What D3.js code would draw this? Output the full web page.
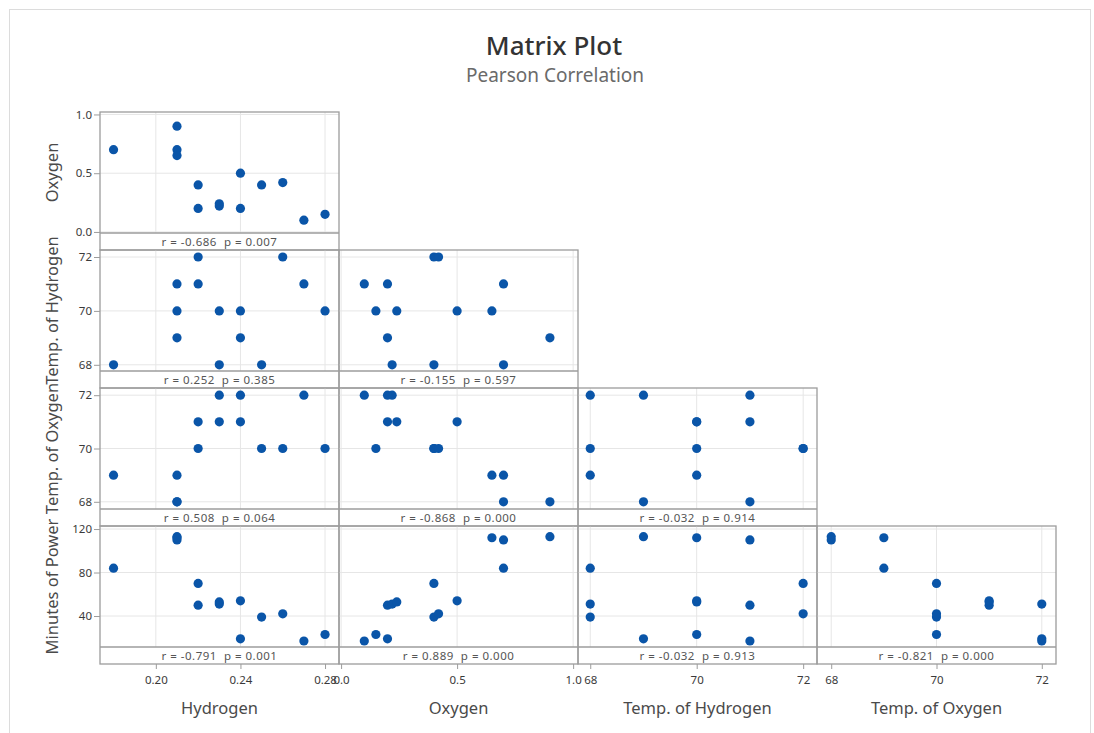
<!DOCTYPE html>
<html>
<head>
<meta charset="utf-8">
<script src="https://cdn.jsdelivr.net/npm/d3@7"></script>
<style>
  html, body { margin: 0; padding: 0; background: #ffffff; }
  svg { display: block; font-family: "Noto Sans", "Open Sans", sans-serif; }
</style>
</head>
<body>
<svg id="chart" width="1094" height="733"></svg>
<script>
// Variables of the matrix plot, in column/row order
const variableNames = ["Hydrogen", "Oxygen", "Temp. of Hydrogen", "Temp. of Oxygen", "Minutes of Power"];

// Observations (14 runs)
const hydrogen       = [0.18, 0.21, 0.21, 0.21, 0.22, 0.22, 0.23, 0.23, 0.24, 0.24, 0.25, 0.26, 0.27, 0.28];
const oxygen         = [0.70, 0.90, 0.70, 0.65, 0.40, 0.20, 0.22, 0.24, 0.50, 0.20, 0.40, 0.42, 0.10, 0.15];
const tempHydrogen   = [68, 69, 71, 70, 72, 71, 68, 70, 70, 69, 68, 72, 71, 70];
const tempOxygen     = [69, 68, 68, 69, 70, 71, 72, 71, 71, 72, 70, 70, 72, 70];
const minutesOfPower = [84, 113, 110, 112, 70, 50, 51, 53, 54, 19, 39, 42, 17, 23];

// Tick values and labels per variable
const tickValues = [
  [0.20, 0.24, 0.28],
  [0.0, 0.5, 1.0],
  [68, 70, 72],
  [68, 70, 72],
  [40, 80, 120]
];
const tickLabels = [
  ["0.20", "0.24", "0.28"],
  ["0.0", "0.5", "1.0"],
  ["68", "70", "72"],
  ["68", "70", "72"],
  ["40", "80", "120"]
];

// Pearson r and p for each lower-triangle panel (row = y variable, column = x variable)
const rValues = [
  ["-0.686"],
  ["0.252", "-0.155"],
  ["0.508", "-0.868", "-0.032"],
  ["-0.791", "0.889", "-0.032", "-0.821"]
];
const pValues = [
  ["0.007"],
  ["0.385", "0.597"],
  ["0.064", "0.000", "0.914"],
  ["0.001", "0.000", "0.913", "0.000"]
];

const series = [hydrogen, oxygen, tempHydrogen, tempOxygen, minutesOfPower];

// Scale domains (with the padding the panels show)
const domains = [
  [0.1736, 0.2866],
  [-0.009, 1.021],
  [67.77, 72.26],
  [67.73, 72.27],
  [11.5, 122.8]
];

// Panel geometry
const colEdges = [100, 339, 578, 817, 1056];
const rowTops = [112, 250, 388, 526];
const plotH = 121;
const stripH = 17;

const svg = d3.select("#chart");

// Outer frame
svg.append("rect")
  .attr("x", 9.5).attr("y", 9.5)
  .attr("width", 1081).attr("height", 740)
  .attr("fill", "none").attr("stroke", "#dcdcdc").attr("stroke-width", 1);

// Titles
svg.append("text")
  .attr("x", 554).attr("y", 55)
  .attr("text-anchor", "middle")
  .attr("font-size", 26).attr("font-weight", 500).attr("fill", "#333")
  .text("Matrix Plot");
svg.append("text")
  .attr("x", 555).attr("y", 82)
  .attr("text-anchor", "middle")
  .attr("font-size", 19).attr("fill", "#6a6a6a")
  .text("Pearson Correlation");

const xScales = d3.range(4).map(j =>
  d3.scaleLinear().domain(domains[j]).range([colEdges[j], colEdges[j + 1]]));
const yScales = d3.range(4).map(i =>
  d3.scaleLinear().domain(domains[i + 1]).range([rowTops[i] + plotH, rowTops[i]]));

const border = "#9c9c9c";
const grid = "#e6e6e6";

for (let i = 0; i < 4; i++) {
  const yVar = i + 1;
  const y = yScales[i];
  const top = rowTops[i];
  for (let j = 0; j <= i; j++) {
    const x = xScales[j];
    const left = colEdges[j], right = colEdges[j + 1];
    const g = svg.append("g");

    // grid lines
    g.selectAll(".vg").data(tickValues[j]).join("line")
      .attr("x1", d => x(d)).attr("x2", d => x(d))
      .attr("y1", top).attr("y2", top + plotH)
      .attr("stroke", grid).attr("stroke-width", 1);
    g.selectAll(".hg").data(tickValues[yVar]).join("line")
      .attr("x1", left).attr("x2", right)
      .attr("y1", d => y(d)).attr("y2", d => y(d))
      .attr("stroke", grid).attr("stroke-width", 1);

    // points
    const xs = series[j], ys = series[yVar];
    g.selectAll("circle").data(d3.range(xs.length)).join("circle")
      .attr("cx", k => x(xs[k]))
      .attr("cy", k => y(ys[k]))
      .attr("r", 4.6)
      .attr("fill", "#0a55a8");

    // panel box and statistics strip
    g.append("rect")
      .attr("x", left).attr("y", top)
      .attr("width", right - left).attr("height", plotH + stripH)
      .attr("fill", "none").attr("stroke", border).attr("stroke-width", 1.3);
    g.append("line")
      .attr("x1", left).attr("x2", right)
      .attr("y1", top + plotH).attr("y2", top + plotH)
      .attr("stroke", border).attr("stroke-width", 1.3);
    g.append("text")
      .attr("x", (left + right) / 2).attr("y", top + plotH + 13)
      .attr("text-anchor", "middle")
      .attr("font-size", 11.5).attr("letter-spacing", 0.5).attr("fill", "#555")
      .attr("xml:space", "preserve")
      .text(`r = ${rValues[i][j]}  p = ${pValues[i][j]}`);
  }

  // left axis
  const axisG = svg.append("g")
    .attr("transform", `translate(${colEdges[0]},0)`)
    .call(d3.axisLeft(y).tickValues(tickValues[yVar])
      .tickFormat((d, k) => tickLabels[yVar][k]).tickSize(6).tickPadding(2));
  axisG.select(".domain").remove();
  axisG.selectAll(".tick line").attr("stroke", border);
  axisG.selectAll(".tick text").attr("font-size", 11.5).attr("fill", "#3a3a3a")
    .attr("font-family", "Noto Sans, sans-serif");

  // row label
  svg.append("text")
    .attr("transform", `translate(58,${top + plotH / 2}) rotate(-90)`)
    .attr("text-anchor", "middle")
    .attr("font-size", 16.5).attr("fill", "#4a4a4a")
    .text(variableNames[yVar]);
}

// bottom axes and column labels
const bottom = rowTops[3] + plotH + stripH;
for (let j = 0; j < 4; j++) {
  const axisG = svg.append("g")
    .attr("transform", `translate(0,${bottom})`)
    .call(d3.axisBottom(xScales[j]).tickValues(tickValues[j])
      .tickFormat((d, k) => tickLabels[j][k]).tickSize(5).tickPadding(7));
  axisG.select(".domain").remove();
  axisG.selectAll(".tick line").attr("stroke", border);
  axisG.selectAll(".tick text").attr("font-size", 11.5).attr("fill", "#3a3a3a")
    .attr("font-family", "Noto Sans, sans-serif");

  svg.append("text")
    .attr("x", (colEdges[j] + colEdges[j + 1]) / 2).attr("y", 714)
    .attr("text-anchor", "middle")
    .attr("font-size", 16.5).attr("fill", "#4a4a4a")
    .text(variableNames[j]);
}
</script>
</body>
</html>
